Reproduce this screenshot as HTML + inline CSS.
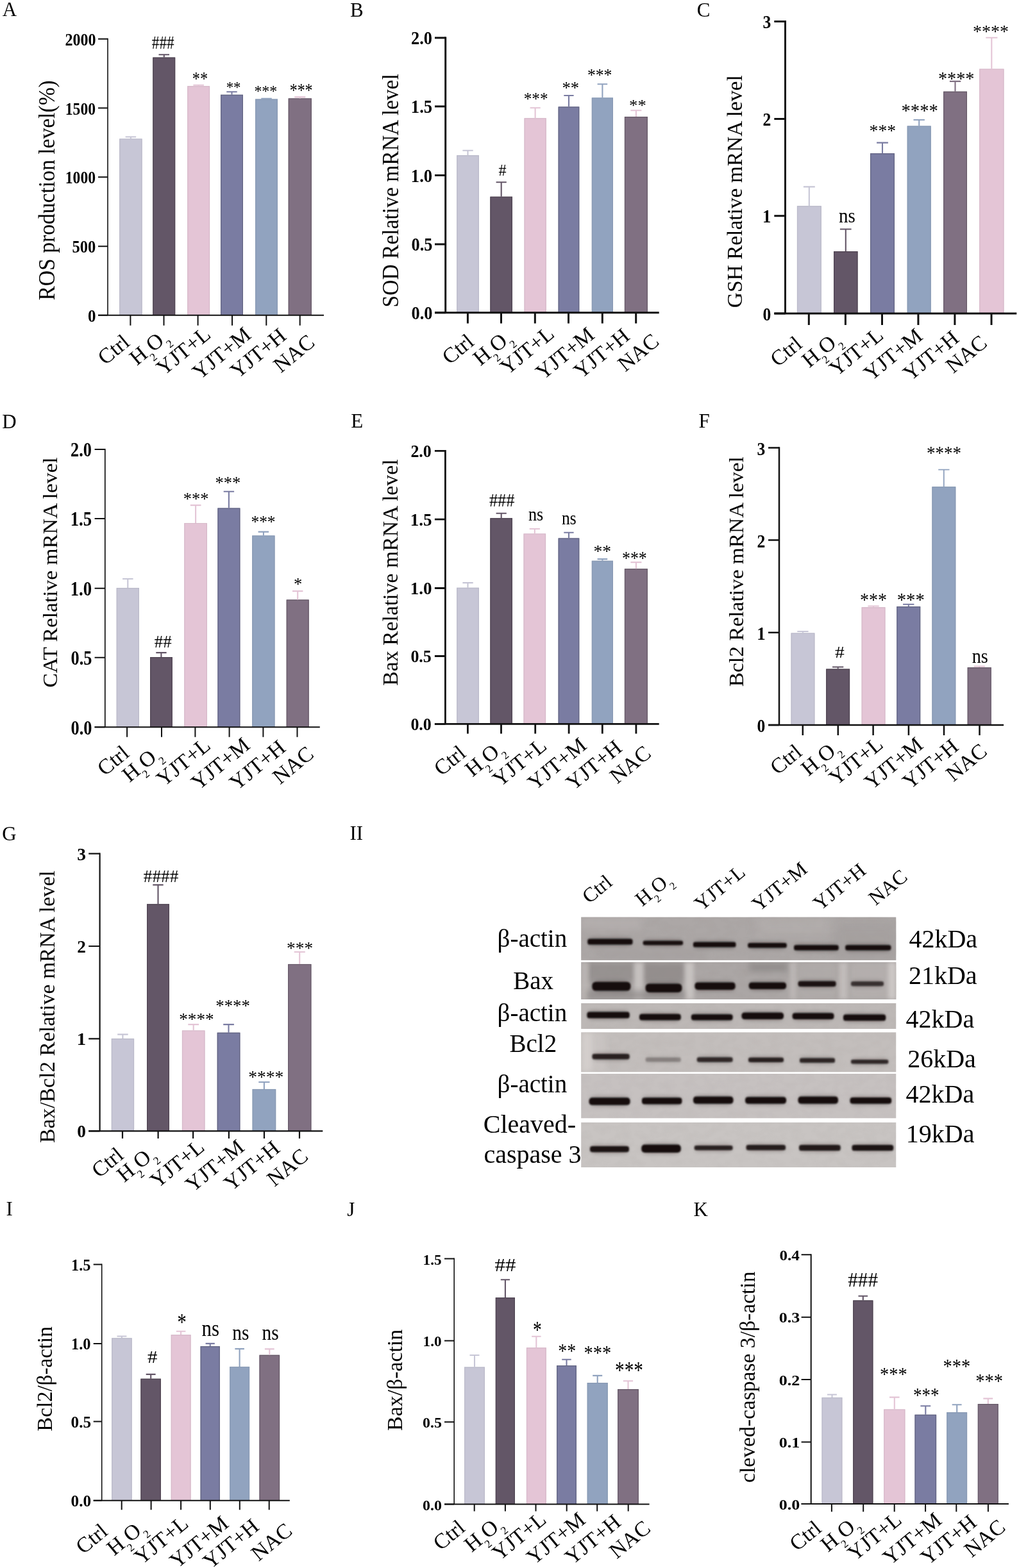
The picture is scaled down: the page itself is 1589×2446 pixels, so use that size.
<!DOCTYPE html><html><head><meta charset="utf-8"><title>Figure</title><style>html,body{margin:0;padding:0;background:#fff;width:1589px;height:2446px;overflow:hidden}svg{display:block}</style></head><body><svg width="1589" height="2446" viewBox="0 0 1589 2446" font-family="'Liberation Serif', serif"><rect width="1589" height="2446" fill="#fff"/><defs><filter id="bb" x="-10%" y="-60%" width="120%" height="220%"><feGaussianBlur stdDeviation="1.1"/></filter><filter id="bh" x="-20%" y="-150%" width="140%" height="400%"><feGaussianBlur stdDeviation="3"/></filter><filter id="s3" x="-50%" y="-50%" width="200%" height="200%"><feGaussianBlur stdDeviation="3"/></filter><filter id="s4" x="-50%" y="-50%" width="200%" height="200%"><feGaussianBlur stdDeviation="4"/></filter><filter id="s5" x="-50%" y="-50%" width="200%" height="200%"><feGaussianBlur stdDeviation="5"/></filter><filter id="s6" x="-50%" y="-50%" width="200%" height="200%"><feGaussianBlur stdDeviation="6"/></filter><filter id="s8" x="-50%" y="-50%" width="200%" height="200%"><feGaussianBlur stdDeviation="8"/></filter><filter id="nz" x="0" y="0" width="100%" height="100%"><feTurbulence type="fractalNoise" baseFrequency="0.06 0.09" numOctaves="2" seed="7"/><feColorMatrix type="matrix" values="0 0 0 0 0.35  0 0 0 0 0.32  0 0 0 0 0.31  0 0 0 -1.6 1.0"/></filter><clipPath id="c0"><rect x="906.1" y="1430.4" width="491.4" height="67.5"/></clipPath><clipPath id="c1"><rect x="906.1" y="1500.8" width="491.4" height="58.2"/></clipPath><clipPath id="c2"><rect x="906.1" y="1564.9" width="491.4" height="40.1"/></clipPath><clipPath id="c3"><rect x="906.1" y="1610.2" width="491.4" height="62.3"/></clipPath><clipPath id="c4"><rect x="906.1" y="1675.0" width="491.4" height="69.6"/></clipPath><clipPath id="c5"><rect x="906.1" y="1750.8" width="491.4" height="70.2"/></clipPath></defs><g clip-path="url(#c0)"><rect x="906.1" y="1430.4" width="491.4" height="67.5" fill="#aca7a6"/><rect x="906.1" y="1430.4" width="491.4" height="67.5" filter="url(#nz)" opacity="0.22"/><rect x="906" y="1430" width="94" height="20" fill="#b9b4b3" opacity="0.6" filter="url(#s6)"/><rect x="1180" y="1430" width="120" height="30" fill="#b7b2b1" opacity="0.5" filter="url(#s8)"/><rect x="1300" y="1440" width="97" height="57" fill="#a29d9c" opacity="0.6" filter="url(#s8)"/><rect x="930" y="1480" width="170" height="17" fill="#a39e9d" opacity="0.5" filter="url(#s6)"/><rect x="918.2" y="1463.6" width="66.3" height="10.9" rx="4.5" fill="#161110" opacity="0.35" filter="url(#bh)"/><rect x="916.2" y="1464.6" width="70.3" height="8.9" rx="3.6" fill="#161110" opacity="1" filter="url(#bb)"/><rect x="1004.7" y="1466.4" width="58.3" height="8.9" rx="3.4" fill="#161110" opacity="0.34" filter="url(#bh)"/><rect x="1002.7" y="1467.4" width="62.3" height="6.9" rx="2.8" fill="#161110" opacity="0.97" filter="url(#bb)"/><rect x="1083.0" y="1468.5" width="62.4" height="10.1" rx="4.0" fill="#161110" opacity="0.35" filter="url(#bh)"/><rect x="1081.0" y="1469.5" width="66.4" height="8.1" rx="3.2" fill="#161110" opacity="1" filter="url(#bb)"/><rect x="1168.2" y="1470.1" width="56.6" height="9.3" rx="3.7" fill="#161110" opacity="0.35" filter="url(#bh)"/><rect x="1166.2" y="1471.1" width="60.6" height="7.3" rx="2.9" fill="#161110" opacity="1" filter="url(#bb)"/><rect x="1240.1" y="1473.3" width="65.6" height="10.1" rx="4.1" fill="#161110" opacity="0.35" filter="url(#bh)"/><rect x="1238.1" y="1474.3" width="69.6" height="8.1" rx="3.2" fill="#161110" opacity="1" filter="url(#bb)"/><rect x="1320.2" y="1473.3" width="67.1" height="10.1" rx="4.1" fill="#161110" opacity="0.35" filter="url(#bh)"/><rect x="1318.2" y="1474.3" width="71.1" height="8.1" rx="3.2" fill="#161110" opacity="1" filter="url(#bb)"/></g><g clip-path="url(#c1)"><rect x="906.1" y="1500.8" width="491.4" height="58.2" fill="#aba6a5"/><rect x="906.1" y="1500.8" width="491.4" height="58.2" filter="url(#nz)" opacity="0.28"/><rect x="915" y="1501" width="75" height="31" fill="#8c8786" opacity="0.65" filter="url(#s5)"/><rect x="1003" y="1501" width="65" height="34" fill="#8a8584" opacity="0.7" filter="url(#s5)"/><rect x="1168" y="1501" width="60" height="15" fill="#8e8988" opacity="0.8" filter="url(#s4)"/><rect x="906" y="1501" width="12" height="58" fill="#c2bdbb" opacity="0.7" filter="url(#s3)"/><rect x="989" y="1501" width="14" height="58" fill="#c9c4c2" opacity="0.9" filter="url(#s3)"/><rect x="1068" y="1501" width="14" height="58" fill="#cbc6c4" opacity="0.9" filter="url(#s3)"/><rect x="1232" y="1501" width="10" height="58" fill="#c4bfbd" opacity="0.7" filter="url(#s3)"/><rect x="1308" y="1501" width="14" height="58" fill="#c8c3c1" opacity="0.8" filter="url(#s3)"/><rect x="1245" y="1501" width="60" height="58" fill="#b3aeac" opacity="0.6" filter="url(#s5)"/><rect x="1325" y="1501" width="72" height="58" fill="#b8b3b1" opacity="0.7" filter="url(#s5)"/><rect x="1385" y="1501" width="12.5" height="58" fill="#d3cecc" opacity="0.8" filter="url(#s3)"/><rect x="915" y="1545" width="153" height="14" fill="#8f8a89" opacity="0.7" filter="url(#s4)"/><rect x="925.4" y="1530.7" width="55.9" height="15.8" rx="6.9" fill="#161110" opacity="0.35" filter="url(#bh)"/><rect x="923.4" y="1531.7" width="59.9" height="13.8" rx="5.5" fill="#161110" opacity="1" filter="url(#bb)"/><rect x="1008.7" y="1533.5" width="52.6" height="15.4" rx="6.7" fill="#161110" opacity="0.35" filter="url(#bh)"/><rect x="1006.7" y="1534.5" width="56.6" height="13.4" rx="5.4" fill="#161110" opacity="1" filter="url(#bb)"/><rect x="1085.5" y="1531.5" width="59.1" height="13.4" rx="5.7" fill="#161110" opacity="0.35" filter="url(#bh)"/><rect x="1083.5" y="1532.5" width="63.1" height="11.4" rx="4.6" fill="#161110" opacity="1" filter="url(#bb)"/><rect x="1169.8" y="1531.5" width="54.2" height="12.5" rx="5.2" fill="#161110" opacity="0.35" filter="url(#bh)"/><rect x="1167.8" y="1532.5" width="58.2" height="10.5" rx="4.2" fill="#161110" opacity="1" filter="url(#bb)"/><rect x="1246.6" y="1529.5" width="55.0" height="10.5" rx="4.2" fill="#161110" opacity="0.33" filter="url(#bh)"/><rect x="1244.6" y="1530.5" width="59.0" height="8.5" rx="3.4" fill="#161110" opacity="0.95" filter="url(#bb)"/><rect x="1329.0" y="1530.0" width="47.0" height="9.2" rx="3.6" fill="#161110" opacity="0.25" filter="url(#bh)"/><rect x="1327.0" y="1531.0" width="51.0" height="7.2" rx="2.9" fill="#161110" opacity="0.72" filter="url(#bb)"/></g><g clip-path="url(#c2)"><rect x="906.1" y="1564.9" width="491.4" height="40.1" fill="#bdb8b6"/><rect x="906.1" y="1564.9" width="491.4" height="40.1" filter="url(#nz)" opacity="0.12"/><rect x="917.4" y="1577.6" width="62.3" height="11.7" rx="4.9" fill="#161110" opacity="0.35" filter="url(#bh)"/><rect x="915.4" y="1578.6" width="66.3" height="9.7" rx="3.9" fill="#161110" opacity="1" filter="url(#bb)"/><rect x="999.0" y="1580.8" width="60.7" height="11.7" rx="4.9" fill="#161110" opacity="0.35" filter="url(#bh)"/><rect x="997.0" y="1581.8" width="64.7" height="9.7" rx="3.9" fill="#161110" opacity="1" filter="url(#bb)"/><rect x="1079.9" y="1581.3" width="60.7" height="11.2" rx="4.6" fill="#161110" opacity="0.35" filter="url(#bh)"/><rect x="1077.9" y="1582.3" width="64.7" height="9.2" rx="3.7" fill="#161110" opacity="1" filter="url(#bb)"/><rect x="1158.5" y="1578.4" width="61.5" height="12.5" rx="5.2" fill="#161110" opacity="0.35" filter="url(#bh)"/><rect x="1156.5" y="1579.4" width="65.5" height="10.5" rx="4.2" fill="#161110" opacity="1" filter="url(#bb)"/><rect x="1237.7" y="1579.2" width="60.7" height="11.7" rx="4.9" fill="#161110" opacity="0.35" filter="url(#bh)"/><rect x="1235.7" y="1580.2" width="64.7" height="9.7" rx="3.9" fill="#161110" opacity="1" filter="url(#bb)"/><rect x="1317.0" y="1581.6" width="62.2" height="11.7" rx="4.9" fill="#161110" opacity="0.35" filter="url(#bh)"/><rect x="1315.0" y="1582.6" width="66.2" height="9.7" rx="3.9" fill="#161110" opacity="1" filter="url(#bb)"/></g><g clip-path="url(#c3)"><rect x="906.1" y="1610.2" width="491.4" height="62.3" fill="#c3bebc"/><rect x="906.1" y="1610.2" width="491.4" height="62.3" filter="url(#nz)" opacity="0.1"/><rect x="906" y="1610" width="20" height="62" fill="#d5d0ce" opacity="0.9" filter="url(#s4)"/><rect x="926" y="1610" width="19" height="62" fill="#cdc8c6" opacity="0.6" filter="url(#s5)"/><rect x="925.4" y="1643.1" width="54.3" height="10.4" rx="4.2" fill="#161110" opacity="0.30" filter="url(#bh)"/><rect x="923.4" y="1644.1" width="58.3" height="8.4" rx="3.4" fill="#161110" opacity="0.85" filter="url(#bb)"/><rect x="1008.7" y="1648.5" width="51.0" height="9.0" rx="3.5" fill="#161110" opacity="0.10" filter="url(#bh)"/><rect x="1006.7" y="1649.5" width="55.0" height="7.0" rx="2.8" fill="#161110" opacity="0.28" filter="url(#bb)"/><rect x="1088.8" y="1648.3" width="51.8" height="9.5" rx="3.8" fill="#161110" opacity="0.28" filter="url(#bh)"/><rect x="1086.8" y="1649.3" width="55.8" height="7.5" rx="3.0" fill="#161110" opacity="0.8" filter="url(#bb)"/><rect x="1169.0" y="1648.7" width="51.0" height="9.3" rx="3.6" fill="#161110" opacity="0.30" filter="url(#bh)"/><rect x="1167.0" y="1649.7" width="55.0" height="7.3" rx="2.9" fill="#161110" opacity="0.85" filter="url(#bb)"/><rect x="1249.0" y="1649.6" width="51.0" height="9.2" rx="3.6" fill="#161110" opacity="0.29" filter="url(#bh)"/><rect x="1247.0" y="1650.6" width="55.0" height="7.2" rx="2.9" fill="#161110" opacity="0.82" filter="url(#bb)"/><rect x="1329.0" y="1652.0" width="54.3" height="8.4" rx="3.2" fill="#161110" opacity="0.28" filter="url(#bh)"/><rect x="1327.0" y="1653.0" width="58.3" height="6.4" rx="2.6" fill="#161110" opacity="0.8" filter="url(#bb)"/></g><g clip-path="url(#c4)"><rect x="906.1" y="1675.0" width="491.4" height="69.6" fill="#c6c1c0"/><rect x="906.1" y="1675.0" width="491.4" height="69.6" filter="url(#nz)" opacity="0.1"/><rect x="920.6" y="1711.3" width="59.9" height="13.5" rx="5.8" fill="#161110" opacity="0.35" filter="url(#bh)"/><rect x="918.6" y="1712.3" width="63.9" height="11.5" rx="4.6" fill="#161110" opacity="1" filter="url(#bb)"/><rect x="1003.0" y="1711.3" width="58.3" height="12.2" rx="5.1" fill="#161110" opacity="0.35" filter="url(#bh)"/><rect x="1001.0" y="1712.3" width="62.3" height="10.2" rx="4.1" fill="#161110" opacity="1" filter="url(#bb)"/><rect x="1083.1" y="1709.4" width="58.3" height="13.3" rx="5.6" fill="#161110" opacity="0.35" filter="url(#bh)"/><rect x="1081.1" y="1710.4" width="62.3" height="11.3" rx="4.5" fill="#161110" opacity="1" filter="url(#bb)"/><rect x="1164.1" y="1710.2" width="59.9" height="12.5" rx="5.2" fill="#161110" opacity="0.35" filter="url(#bh)"/><rect x="1162.1" y="1711.2" width="63.9" height="10.5" rx="4.2" fill="#161110" opacity="1" filter="url(#bb)"/><rect x="1246.6" y="1709.4" width="58.3" height="13.3" rx="5.6" fill="#161110" opacity="0.35" filter="url(#bh)"/><rect x="1244.6" y="1710.4" width="62.3" height="11.3" rx="4.5" fill="#161110" opacity="1" filter="url(#bb)"/><rect x="1327.5" y="1711.0" width="60.6" height="11.7" rx="4.9" fill="#161110" opacity="0.35" filter="url(#bh)"/><rect x="1325.5" y="1712.0" width="64.6" height="9.7" rx="3.9" fill="#161110" opacity="1" filter="url(#bb)"/></g><g clip-path="url(#c5)"><rect x="906.1" y="1750.8" width="491.4" height="70.2" fill="#c8c4c2"/><rect x="906.1" y="1750.8" width="491.4" height="70.2" filter="url(#nz)" opacity="0.1"/><rect x="922.0" y="1786.9" width="56.9" height="11.3" rx="4.6" fill="#161110" opacity="0.33" filter="url(#bh)"/><rect x="920.0" y="1787.9" width="60.9" height="9.3" rx="3.7" fill="#161110" opacity="0.95" filter="url(#bb)"/><rect x="1002.3" y="1784.5" width="57.4" height="14.5" rx="6.2" fill="#161110" opacity="0.35" filter="url(#bh)"/><rect x="1000.3" y="1785.5" width="61.4" height="12.5" rx="5.0" fill="#161110" opacity="1" filter="url(#bb)"/><rect x="1084.7" y="1785.9" width="55.9" height="9.4" rx="3.7" fill="#161110" opacity="0.30" filter="url(#bh)"/><rect x="1082.7" y="1786.9" width="59.9" height="7.4" rx="3.0" fill="#161110" opacity="0.85" filter="url(#bb)"/><rect x="1165.6" y="1785.0" width="57.4" height="10.3" rx="4.1" fill="#161110" opacity="0.31" filter="url(#bh)"/><rect x="1163.6" y="1786.0" width="61.4" height="8.3" rx="3.3" fill="#161110" opacity="0.88" filter="url(#bb)"/><rect x="1248.0" y="1785.0" width="60.7" height="11.0" rx="4.5" fill="#161110" opacity="0.32" filter="url(#bh)"/><rect x="1246.0" y="1786.0" width="64.7" height="9.0" rx="3.6" fill="#161110" opacity="0.9" filter="url(#bb)"/><rect x="1330.5" y="1785.0" width="60.7" height="11.0" rx="4.5" fill="#161110" opacity="0.33" filter="url(#bh)"/><rect x="1328.5" y="1786.0" width="64.7" height="9.0" rx="3.6" fill="#161110" opacity="0.95" filter="url(#bb)"/></g><g id="pA"><rect x="186.2" y="216.4" width="35.4" height="275.4" fill="#C7C6D6"/><path d="M186.8 491.8V217H221V491.8" stroke="#bbbac9" stroke-width="1.2" fill="none"/><path d="M203.9 216.4V213.5M195.6 213.5H212.2" stroke="#C7C6D6" stroke-width="2.1" fill="none"/><rect x="238.3" y="89.6" width="34.9" height="402.2" fill="#635667"/><path d="M238.9 491.8V90.2H272.6V491.8" stroke="#4f4452" stroke-width="1.2" fill="none"/><path d="M255.8 89.6V85.2M247.5 85.2H264" stroke="#635667" stroke-width="2.1" fill="none"/><rect x="292.2" y="134.2" width="34.9" height="357.6" fill="#E4C5D6"/><path d="M292.8 491.8V134.8H326.5V491.8" stroke="#d6b9c9" stroke-width="1.2" fill="none"/><path d="M309.6 134.2V132.8M301.4 132.8H317.9" stroke="#E4C5D6" stroke-width="2.1" fill="none"/><rect x="344" y="147.8" width="35" height="344" fill="#7A7CA2"/><path d="M344.6 491.8V148.4H378.4V491.8" stroke="#616381" stroke-width="1.2" fill="none"/><path d="M361.5 147.8V143.3M353.3 143.3H369.7" stroke="#7A7CA2" stroke-width="2.1" fill="none"/><rect x="398.1" y="154.6" width="34.9" height="337.2" fill="#91A3BF"/><path d="M398.7 491.8V155.2H432.4V491.8" stroke="#8899b3" stroke-width="1.2" fill="none"/><path d="M415.6 154.6V153.7M407.3 153.7H423.8" stroke="#91A3BF" stroke-width="2.1" fill="none"/><rect x="449.7" y="153.4" width="36.2" height="338.4" fill="#807082"/><path d="M450.3 491.8V154H485.3V491.8" stroke="#665968" stroke-width="1.2" fill="none"/><path d="M467.8 153.4V151.4M459.3 151.4H476.3" stroke="#E4C5D6" stroke-width="2.1" fill="none"/><path d="M168 59.7V491.8" stroke="#111" stroke-width="1.6" fill="none"/><path d="M153 491.8H505" stroke="#111" stroke-width="2.0" fill="none"/><path d="M153 60.7H168M153 168.5H168M153 276.2H168M153 384.2H168M153 491.8H168" stroke="#111" stroke-width="2.0" fill="none"/><path d="M203.4 491.8V507.8M255.5 491.8V507.8M308.6 491.8V507.8M362 491.8V507.8M415.3 491.8V507.8M467.7 491.8V507.8" stroke="#111" stroke-width="2.0" fill="none"/></g><g id="pB"><rect x="712.2" y="242.2" width="34.7" height="245.5" fill="#C7C6D6"/><path d="M712.8 487.7V242.8H746.3V487.7" stroke="#bbbac9" stroke-width="1.2" fill="none"/><path d="M729.5 242.2V234.8M721.4 234.8H737.7" stroke="#C7C6D6" stroke-width="2.1" fill="none"/><rect x="764.4" y="306.8" width="34.6" height="180.9" fill="#635667"/><path d="M765 487.7V307.4H798.4V487.7" stroke="#4f4452" stroke-width="1.2" fill="none"/><path d="M781.7 306.8V284.2M773.6 284.2H789.8" stroke="#635667" stroke-width="2.1" fill="none"/><rect x="817.5" y="184.3" width="34.3" height="303.4" fill="#E4C5D6"/><path d="M818.1 487.7V184.9H851.2V487.7" stroke="#d6b9c9" stroke-width="1.2" fill="none"/><path d="M834.6 184.3V168.2M826.6 168.2H842.7" stroke="#E4C5D6" stroke-width="2.1" fill="none"/><rect x="870.6" y="166.5" width="32.7" height="321.2" fill="#7A7CA2"/><path d="M871.2 487.7V167.1H902.7V487.7" stroke="#616381" stroke-width="1.2" fill="none"/><path d="M887 166.5V149M879.3 149H894.6" stroke="#7A7CA2" stroke-width="2.1" fill="none"/><rect x="922.8" y="152.4" width="33.2" height="335.3" fill="#91A3BF"/><path d="M923.4 487.7V153H955.4V487.7" stroke="#8899b3" stroke-width="1.2" fill="none"/><path d="M939.4 152.4V131.2M931.6 131.2H947.2" stroke="#91A3BF" stroke-width="2.1" fill="none"/><rect x="973.9" y="182" width="36" height="305.7" fill="#807082"/><path d="M974.5 487.7V182.6H1009.3V487.7" stroke="#665968" stroke-width="1.2" fill="none"/><path d="M991.9 182V172.2M983.4 172.2H1000.4" stroke="#E4C5D6" stroke-width="2.1" fill="none"/><path d="M694.7 57.4V487.7" stroke="#111" stroke-width="3" fill="none"/><path d="M678 487.7H1027.7" stroke="#111" stroke-width="3" fill="none"/><path d="M678 58.9H694.7M678 166H694.7M678 273.5H694.7M678 381H694.7M678 487.7H694.7" stroke="#111" stroke-width="3" fill="none"/><path d="M729.4 487.7V504.5M781.5 487.7V504.5M834.3 487.7V504.5M886.5 487.7V504.5M939.3 487.7V504.5M991.7 487.7V504.5" stroke="#111" stroke-width="3" fill="none"/></g><g id="pC"><rect x="1242.9" y="321.2" width="37.9" height="167.9" fill="#C7C6D6"/><path d="M1243.5 489.1V321.8H1280.2V489.1" stroke="#bbbac9" stroke-width="1.2" fill="none"/><path d="M1261.8 321.2V291.4M1252.9 291.4H1270.8" stroke="#C7C6D6" stroke-width="2.1" fill="none"/><rect x="1300" y="392.1" width="37.5" height="97" fill="#635667"/><path d="M1300.6 489.1V392.7H1336.9V489.1" stroke="#4f4452" stroke-width="1.2" fill="none"/><path d="M1318.8 392.1V357.5M1309.9 357.5H1327.6" stroke="#635667" stroke-width="2.1" fill="none"/><rect x="1357" y="239.3" width="38" height="249.8" fill="#7A7CA2"/><path d="M1357.6 489.1V239.9H1394.4V489.1" stroke="#616381" stroke-width="1.2" fill="none"/><path d="M1376 239.3V222.6M1367.1 222.6H1384.9" stroke="#7A7CA2" stroke-width="2.1" fill="none"/><rect x="1414.7" y="196.4" width="37" height="292.7" fill="#91A3BF"/><path d="M1415.3 489.1V197H1451.1V489.1" stroke="#8899b3" stroke-width="1.2" fill="none"/><path d="M1433.2 196.4V187M1424.5 187H1441.9" stroke="#91A3BF" stroke-width="2.1" fill="none"/><rect x="1471.1" y="142.7" width="36.9" height="346.4" fill="#807082"/><path d="M1471.7 489.1V143.3H1507.4V489.1" stroke="#665968" stroke-width="1.2" fill="none"/><path d="M1489.5 142.7V126.9M1480.9 126.9H1498.2" stroke="#807082" stroke-width="2.1" fill="none"/><rect x="1527.2" y="107.4" width="38.3" height="381.7" fill="#E4C5D6"/><path d="M1527.8 489.1V108H1564.9V489.1" stroke="#d6b9c9" stroke-width="1.2" fill="none"/><path d="M1546.3 107.4V58.7M1537.3 58.7H1555.4" stroke="#E4C5D6" stroke-width="2.1" fill="none"/><path d="M1224.5 32.1V489.1" stroke="#111" stroke-width="3" fill="none"/><path d="M1207.3 489.1H1585.3" stroke="#111" stroke-width="3" fill="none"/><path d="M1207.3 33.6H1224.5M1207.3 185.5H1224.5M1207.3 336.7H1224.5M1207.3 489.1H1224.5" stroke="#111" stroke-width="3" fill="none"/><path d="M1261.3 489.1V506.9M1318.4 489.1V506.9M1375.5 489.1V506.9M1431.9 489.1V506.9M1488.9 489.1V506.9M1546 489.1V506.9" stroke="#111" stroke-width="3" fill="none"/></g><g id="pD"><rect x="181.7" y="917" width="35.3" height="217.3" fill="#C7C6D6"/><path d="M182.3 1134.3V917.6H216.4V1134.3" stroke="#bbbac9" stroke-width="1.2" fill="none"/><path d="M199.3 917V903M191.1 903H207.6" stroke="#C7C6D6" stroke-width="2.1" fill="none"/><rect x="234.1" y="1025" width="34.7" height="109.3" fill="#635667"/><path d="M234.7 1134.3V1025.6H268.2V1134.3" stroke="#4f4452" stroke-width="1.2" fill="none"/><path d="M251.4 1025V1018.1M243.3 1018.1H259.6" stroke="#635667" stroke-width="2.1" fill="none"/><rect x="287.3" y="815.9" width="35.7" height="318.4" fill="#E4C5D6"/><path d="M287.9 1134.3V816.5H322.4V1134.3" stroke="#d6b9c9" stroke-width="1.2" fill="none"/><path d="M305.1 815.9V788.1M296.8 788.1H313.5" stroke="#E4C5D6" stroke-width="2.1" fill="none"/><rect x="339.4" y="792.6" width="35" height="341.7" fill="#7A7CA2"/><path d="M340 1134.3V793.2H373.8V1134.3" stroke="#616381" stroke-width="1.2" fill="none"/><path d="M356.9 792.6V766.8M348.7 766.8H365.1" stroke="#7A7CA2" stroke-width="2.1" fill="none"/><rect x="393.2" y="835.4" width="35.3" height="298.9" fill="#91A3BF"/><path d="M393.8 1134.3V836H427.9V1134.3" stroke="#8899b3" stroke-width="1.2" fill="none"/><path d="M410.9 835.4V829.6M402.6 829.6H419.1" stroke="#91A3BF" stroke-width="2.1" fill="none"/><rect x="446.7" y="935.5" width="35" height="198.8" fill="#807082"/><path d="M447.3 1134.3V936.1H481.1V1134.3" stroke="#665968" stroke-width="1.2" fill="none"/><path d="M464.2 935.5V922.1M456 922.1H472.4" stroke="#E4C5D6" stroke-width="2.1" fill="none"/><path d="M163.8 700.1V1134.3" stroke="#111" stroke-width="1.7" fill="none"/><path d="M147.6 1134.3H498.8" stroke="#111" stroke-width="2.0" fill="none"/><path d="M147.6 701.1H163.8M147.6 808.9H163.8M147.6 917.7H163.8M147.6 1025.7H163.8M147.6 1134.3H163.8" stroke="#111" stroke-width="2.0" fill="none"/><path d="M198.1 1134.3V1149.8M252 1134.3V1149.8M304.4 1134.3V1149.8M357.6 1134.3V1149.8M410.4 1134.3V1149.8M463.5 1134.3V1149.8" stroke="#111" stroke-width="2.0" fill="none"/></g><g id="pE"><rect x="712.2" y="916.8" width="34.7" height="212.6" fill="#C7C6D6"/><path d="M712.8 1129.4V917.4H746.3V1129.4" stroke="#bbbac9" stroke-width="1.2" fill="none"/><path d="M729.5 916.8V909.1M721.4 909.1H737.7" stroke="#C7C6D6" stroke-width="2.1" fill="none"/><rect x="764.4" y="808.2" width="34.6" height="321.2" fill="#635667"/><path d="M765 1129.4V808.8H798.4V1129.4" stroke="#4f4452" stroke-width="1.2" fill="none"/><path d="M781.7 808.2V800.8M773.6 800.8H789.8" stroke="#635667" stroke-width="2.1" fill="none"/><rect x="816.5" y="832.4" width="34.6" height="297" fill="#E4C5D6"/><path d="M817.1 1129.4V833H850.5V1129.4" stroke="#d6b9c9" stroke-width="1.2" fill="none"/><path d="M833.8 832.4V825M825.7 825H841.9" stroke="#E4C5D6" stroke-width="2.1" fill="none"/><rect x="870.6" y="839.5" width="32.7" height="289.9" fill="#7A7CA2"/><path d="M871.2 1129.4V840.1H902.7V1129.4" stroke="#616381" stroke-width="1.2" fill="none"/><path d="M887 839.5V830.7M879.3 830.7H894.6" stroke="#7A7CA2" stroke-width="2.1" fill="none"/><rect x="922.8" y="874.8" width="33.2" height="254.6" fill="#91A3BF"/><path d="M923.4 1129.4V875.4H955.4V1129.4" stroke="#8899b3" stroke-width="1.2" fill="none"/><path d="M939.4 874.8V872.1M931.6 872.1H947.2" stroke="#91A3BF" stroke-width="2.1" fill="none"/><rect x="973.9" y="887.2" width="36" height="242.2" fill="#807082"/><path d="M974.5 1129.4V887.8H1009.3V1129.4" stroke="#665968" stroke-width="1.2" fill="none"/><path d="M991.9 887.2V877.1M983.4 877.1H1000.4" stroke="#E4C5D6" stroke-width="2.1" fill="none"/><path d="M694.4 701.9V1129.4" stroke="#111" stroke-width="2.8" fill="none"/><path d="M677.9 1129.4H1027.7" stroke="#111" stroke-width="2.8" fill="none"/><path d="M677.9 703.3H694.4M677.9 810.1H694.4M677.9 917.5H694.4M677.9 1023.5H694.4M677.9 1129.4H694.4" stroke="#111" stroke-width="2.8" fill="none"/><path d="M729.4 1129.4V1144.5M781.5 1129.4V1144.5M834.7 1129.4V1144.5M887.1 1129.4V1144.5M939.3 1129.4V1144.5M991.9 1129.4V1144.5" stroke="#111" stroke-width="2.8" fill="none"/></g><g id="pF"><rect x="1233.5" y="987.4" width="36.9" height="143.7" fill="#C7C6D6"/><path d="M1234.1 1131.1V988H1269.8V1131.1" stroke="#bbbac9" stroke-width="1.2" fill="none"/><path d="M1252 987.4V985M1243.3 985H1260.6" stroke="#C7C6D6" stroke-width="1.9" fill="none"/><rect x="1288.2" y="1043.5" width="36.9" height="87.6" fill="#635667"/><path d="M1288.8 1131.1V1044.1H1324.5V1131.1" stroke="#4f4452" stroke-width="1.2" fill="none"/><path d="M1306.7 1043.5V1040.5M1298 1040.5H1315.3" stroke="#635667" stroke-width="1.9" fill="none"/><rect x="1343.6" y="947.2" width="36.9" height="183.9" fill="#E4C5D6"/><path d="M1344.2 1131.1V947.8H1379.9V1131.1" stroke="#d6b9c9" stroke-width="1.2" fill="none"/><path d="M1362 947.2V945.5M1353.4 945.5H1370.7" stroke="#E4C5D6" stroke-width="1.9" fill="none"/><rect x="1398.3" y="946.1" width="36.9" height="185" fill="#7A7CA2"/><path d="M1398.9 1131.1V946.7H1434.6V1131.1" stroke="#616381" stroke-width="1.2" fill="none"/><path d="M1416.8 946.1V942.8M1408.1 942.8H1425.4" stroke="#7A7CA2" stroke-width="1.9" fill="none"/><rect x="1453.4" y="759.2" width="36.9" height="371.9" fill="#91A3BF"/><path d="M1454 1131.1V759.8H1489.7V1131.1" stroke="#8899b3" stroke-width="1.2" fill="none"/><path d="M1471.8 759.2V732.6M1463.2 732.6H1480.5" stroke="#91A3BF" stroke-width="1.9" fill="none"/><rect x="1508.7" y="1041.1" width="37" height="90" fill="#807082"/><path d="M1509.3 1131.1V1041.7H1545.1V1131.1" stroke="#665968" stroke-width="1.2" fill="none"/><path d="M1527.2 1041.1V1039.5M1518.5 1039.5H1535.9" stroke="#E4C5D6" stroke-width="1.9" fill="none"/><path d="M1215 697.2V1131.1" stroke="#111" stroke-width="2.5" fill="none"/><path d="M1198 1131.1H1565.1" stroke="#111" stroke-width="2.5" fill="none"/><path d="M1198 698.5H1215M1198 842.6H1215M1198 986.8H1215M1198 1131.1H1215" stroke="#111" stroke-width="2.5" fill="none"/><path d="M1251.8 1131.1V1146.9M1306.8 1131.1V1146.9M1361.6 1131.1V1146.9M1416.9 1131.1V1146.9M1472 1131.1V1146.9M1527.5 1131.1V1146.9" stroke="#111" stroke-width="2.5" fill="none"/></g><g id="pG"><rect x="173.8" y="1620.1" width="35.3" height="144.3" fill="#C7C6D6"/><path d="M174.4 1764.4V1620.7H208.5V1764.4" stroke="#bbbac9" stroke-width="1.2" fill="none"/><path d="M191.4 1620.1V1613.6M183.2 1613.6H199.7" stroke="#C7C6D6" stroke-width="2.1" fill="none"/><rect x="229" y="1410.3" width="35" height="354.1" fill="#635667"/><path d="M229.6 1764.4V1410.9H263.4V1764.4" stroke="#4f4452" stroke-width="1.2" fill="none"/><path d="M246.5 1410.3V1380.4M238.3 1380.4H254.7" stroke="#635667" stroke-width="2.1" fill="none"/><rect x="283.9" y="1607.4" width="35.6" height="157" fill="#E4C5D6"/><path d="M284.5 1764.4V1608H318.9V1764.4" stroke="#d6b9c9" stroke-width="1.2" fill="none"/><path d="M301.7 1607.4V1598.1M293.3 1598.1H310.1" stroke="#E4C5D6" stroke-width="2.1" fill="none"/><rect x="338.7" y="1610.8" width="35.7" height="153.6" fill="#7A7CA2"/><path d="M339.3 1764.4V1611.4H373.8V1764.4" stroke="#616381" stroke-width="1.2" fill="none"/><path d="M356.5 1610.8V1598.1M348.2 1598.1H364.9" stroke="#7A7CA2" stroke-width="2.1" fill="none"/><rect x="393.6" y="1698.9" width="36.6" height="65.5" fill="#91A3BF"/><path d="M394.2 1764.4V1699.5H429.6V1764.4" stroke="#8899b3" stroke-width="1.2" fill="none"/><path d="M411.9 1698.9V1688M403.3 1688H420.5" stroke="#91A3BF" stroke-width="2.1" fill="none"/><rect x="449.1" y="1503.9" width="36.3" height="260.5" fill="#807082"/><path d="M449.7 1764.4V1504.5H484.8V1764.4" stroke="#665968" stroke-width="1.2" fill="none"/><path d="M467.2 1503.9V1485M458.7 1485H475.8" stroke="#E4C5D6" stroke-width="2.1" fill="none"/><path d="M155.6 1330.5V1764.4" stroke="#111" stroke-width="2.2" fill="none"/><path d="M138.2 1764.4H503.3" stroke="#111" stroke-width="2.2" fill="none"/><path d="M138.2 1331.6H155.6M138.2 1476H155.6M138.2 1620.4H155.6M138.2 1764.4H155.6" stroke="#111" stroke-width="2.2" fill="none"/><path d="M191 1764.4V1776M246.6 1764.4V1776M301.1 1764.4V1776M356.9 1764.4V1776M412 1764.4V1776M467 1764.4V1776" stroke="#111" stroke-width="2.2" fill="none"/></g><g id="pI"><rect x="174.2" y="2087.3" width="31.5" height="253.5" fill="#C7C6D6"/><path d="M174.8 2340.8V2087.9H205.1V2340.8" stroke="#bbbac9" stroke-width="1.2" fill="none"/><path d="M189.9 2087.3V2084.5M182.5 2084.5H197.4" stroke="#C7C6D6" stroke-width="2.1" fill="none"/><rect x="219.4" y="2150.7" width="31.5" height="190.1" fill="#635667"/><path d="M220 2340.8V2151.3H250.3V2340.8" stroke="#4f4452" stroke-width="1.2" fill="none"/><path d="M235.2 2150.7V2143.9M227.7 2143.9H242.6" stroke="#635667" stroke-width="2.1" fill="none"/><rect x="266.7" y="2082.1" width="30.9" height="258.7" fill="#E4C5D6"/><path d="M267.3 2340.8V2082.7H297V2340.8" stroke="#d6b9c9" stroke-width="1.2" fill="none"/><path d="M282.1 2082.1V2076.7M274.9 2076.7H289.4" stroke="#E4C5D6" stroke-width="2.1" fill="none"/><rect x="312.6" y="2100" width="30.2" height="240.8" fill="#7A7CA2"/><path d="M313.2 2340.8V2100.6H342.2V2340.8" stroke="#616381" stroke-width="1.2" fill="none"/><path d="M327.7 2100V2095.9M320.6 2095.9H334.8" stroke="#7A7CA2" stroke-width="2.1" fill="none"/><rect x="358.2" y="2131.9" width="30.9" height="208.9" fill="#91A3BF"/><path d="M358.8 2340.8V2132.5H388.5V2340.8" stroke="#8899b3" stroke-width="1.2" fill="none"/><path d="M373.6 2131.9V2104.1M366.4 2104.1H380.9" stroke="#91A3BF" stroke-width="2.1" fill="none"/><rect x="404.5" y="2113.7" width="31.6" height="227.1" fill="#807082"/><path d="M405.1 2340.8V2114.3H435.5V2340.8" stroke="#665968" stroke-width="1.2" fill="none"/><path d="M420.3 2113.7V2104.4M412.9 2104.4H427.7" stroke="#E4C5D6" stroke-width="2.1" fill="none"/><path d="M158.7 1971.4V2340.8" stroke="#111" stroke-width="1.6" fill="none"/><path d="M145.7 2340.8H451.8" stroke="#111" stroke-width="2.0" fill="none"/><path d="M145.7 1972.4H158.7M145.7 2095.9H158.7M145.7 2217.6H158.7M145.7 2340.8H158.7" stroke="#111" stroke-width="2.0" fill="none"/><path d="M189.7 2340.8V2355.2M235.6 2340.8V2355.2M282.1 2340.8V2355.2M327.8 2340.8V2355.2M373.8 2340.8V2355.2M419.7 2340.8V2355.2" stroke="#111" stroke-width="2.0" fill="none"/></g><g id="pJ"><rect x="724" y="2132.5" width="32" height="214.1" fill="#C7C6D6"/><path d="M724.6 2346.6V2133.1H755.4V2346.6" stroke="#bbbac9" stroke-width="1.2" fill="none"/><path d="M740 2132.5V2114M732.5 2114H747.5" stroke="#C7C6D6" stroke-width="2.1" fill="none"/><rect x="772.8" y="2024.1" width="30.2" height="322.5" fill="#635667"/><path d="M773.4 2346.6V2024.7H802.4V2346.6" stroke="#4f4452" stroke-width="1.2" fill="none"/><path d="M787.9 2024.1V1996.2M780.8 1996.2H795" stroke="#635667" stroke-width="2.1" fill="none"/><rect x="820.9" y="2102.2" width="30.9" height="244.4" fill="#E4C5D6"/><path d="M821.5 2346.6V2102.8H851.2V2346.6" stroke="#d6b9c9" stroke-width="1.2" fill="none"/><path d="M836.3 2102.2V2084.7M829.1 2084.7H843.6" stroke="#E4C5D6" stroke-width="2.1" fill="none"/><rect x="868" y="2130.1" width="30.9" height="216.5" fill="#7A7CA2"/><path d="M868.6 2346.6V2130.7H898.3V2346.6" stroke="#616381" stroke-width="1.2" fill="none"/><path d="M883.5 2130.1V2120.7M876.2 2120.7H890.7" stroke="#7A7CA2" stroke-width="2.1" fill="none"/><rect x="915.7" y="2157" width="32" height="189.6" fill="#91A3BF"/><path d="M916.3 2346.6V2157.6H947.1V2346.6" stroke="#8899b3" stroke-width="1.2" fill="none"/><path d="M931.7 2157V2145.9M924.2 2145.9H939.2" stroke="#91A3BF" stroke-width="2.1" fill="none"/><rect x="963.1" y="2167.1" width="32.7" height="179.5" fill="#807082"/><path d="M963.7 2346.6V2167.7H995.2V2346.6" stroke="#665968" stroke-width="1.2" fill="none"/><path d="M979.5 2167.1V2154.3M971.8 2154.3H987.1" stroke="#E4C5D6" stroke-width="2.1" fill="none"/><path d="M708.2 1962.6V2346.6" stroke="#111" stroke-width="1.6" fill="none"/><path d="M693 2346.6H1012.6" stroke="#111" stroke-width="2.0" fill="none"/><path d="M693 1963.6H708.2M693 2091.4H708.2M693 2218.2H708.2M693 2346.6H708.2" stroke="#111" stroke-width="2.0" fill="none"/><path d="M739.7 2346.6V2357.6M787.9 2346.6V2357.6M835.5 2346.6V2357.6M883.7 2346.6V2357.6M931.2 2346.6V2357.6M979.7 2346.6V2357.6" stroke="#111" stroke-width="2.0" fill="none"/></g><g id="pK"><rect x="1281.5" y="2179.9" width="31.9" height="166.1" fill="#C7C6D6"/><path d="M1282.1 2346V2180.5H1312.8V2346" stroke="#bbbac9" stroke-width="1.2" fill="none"/><path d="M1297.5 2179.9V2175.5M1290 2175.5H1304.9" stroke="#C7C6D6" stroke-width="2.1" fill="none"/><rect x="1330.2" y="2028.5" width="31.2" height="317.5" fill="#635667"/><path d="M1330.8 2346V2029.1H1360.8V2346" stroke="#4f4452" stroke-width="1.2" fill="none"/><path d="M1345.8 2028.5V2021.8M1338.5 2021.8H1353.1" stroke="#635667" stroke-width="2.1" fill="none"/><rect x="1378.2" y="2198.4" width="33.2" height="147.6" fill="#E4C5D6"/><path d="M1378.8 2346V2199H1410.8V2346" stroke="#d6b9c9" stroke-width="1.2" fill="none"/><path d="M1394.8 2198.4V2179.6M1387 2179.6H1402.6" stroke="#E4C5D6" stroke-width="2.1" fill="none"/><rect x="1426.5" y="2206.8" width="33.6" height="139.2" fill="#7A7CA2"/><path d="M1427.1 2346V2207.4H1459.5V2346" stroke="#616381" stroke-width="1.2" fill="none"/><path d="M1443.3 2206.8V2193.3M1435.4 2193.3H1451.2" stroke="#7A7CA2" stroke-width="2.1" fill="none"/><rect x="1476.2" y="2203.1" width="31.9" height="142.9" fill="#91A3BF"/><path d="M1476.8 2346V2203.7H1507.5V2346" stroke="#8899b3" stroke-width="1.2" fill="none"/><path d="M1492.2 2203.1V2191.3M1484.7 2191.3H1499.6" stroke="#91A3BF" stroke-width="2.1" fill="none"/><rect x="1524.8" y="2190" width="31.9" height="156" fill="#807082"/><path d="M1525.4 2346V2190.6H1556.1V2346" stroke="#665968" stroke-width="1.2" fill="none"/><path d="M1540.8 2190V2181.6M1533.3 2181.6H1548.2" stroke="#E4C5D6" stroke-width="2.1" fill="none"/><path d="M1264.7 1956.3V2346" stroke="#111" stroke-width="2" fill="none"/><path d="M1249.6 2346H1572.9" stroke="#111" stroke-width="2" fill="none"/><path d="M1249.6 1957.3H1264.7M1249.6 2054.7H1264.7M1249.6 2152H1264.7M1249.6 2249.4H1264.7M1249.6 2346H1264.7" stroke="#111" stroke-width="2" fill="none"/><path d="M1296.9 2346V2358.3M1346.2 2346V2358.3M1394.7 2346V2358.3M1443.1 2346V2358.3M1491.3 2346V2358.3M1540.9 2346V2358.3" stroke="#111" stroke-width="2" fill="none"/></g><g fill="#000"><text x="14.85" y="24.85" font-size="31.00" text-anchor="middle">A</text><text x="85.05" y="296.90" font-size="34.94" text-anchor="middle" textLength="343.41" lengthAdjust="spacingAndGlyphs" transform="rotate(-90 85.05 296.90)">ROS production level(%)</text><text x="254.25" y="76.00" font-size="30.40" text-anchor="middle" textLength="35.01" lengthAdjust="spacingAndGlyphs">###</text><text x="311.95" y="132.00" font-size="28.46" text-anchor="middle" textLength="24.27" lengthAdjust="spacingAndGlyphs">**</text><text x="364.10" y="144.65" font-size="24.54" text-anchor="middle" textLength="22.90" lengthAdjust="spacingAndGlyphs">**</text><text x="414.35" y="151.40" font-size="26.18" text-anchor="middle" textLength="35.91" lengthAdjust="spacingAndGlyphs">***</text><text x="469.65" y="149.70" font-size="28.46" text-anchor="middle" textLength="35.91" lengthAdjust="spacingAndGlyphs">***</text><text x="184.20" y="553.90" font-size="33.50" text-anchor="middle" transform="rotate(-39.5 184.20 553.90)">Ctrl</text><text x="239.00" y="550.00" font-size="33.50" text-anchor="middle" transform="rotate(-39.5 239.00 550.00)">H<tspan font-size="17.4" dy="11.4">2</tspan><tspan dy="-11.4">O</tspan><tspan font-size="17.4" dy="11.4">2</tspan></text><text x="293.05" y="555.80" font-size="33.50" text-anchor="middle" transform="rotate(-39.5 293.05 555.80)">YJT+L</text><text x="352.55" y="559.40" font-size="33.50" text-anchor="middle" transform="rotate(-39.5 352.55 559.40)">YJT+M</text><text x="409.55" y="559.40" font-size="33.50" text-anchor="middle" transform="rotate(-39.5 409.55 559.40)">YJT+H</text><text x="465.40" y="559.90" font-size="33.50" text-anchor="middle" transform="rotate(-39.5 465.40 559.90)">NAC</text><text x="556.45" y="25.50" font-size="31.00" text-anchor="middle">B</text><text x="620.60" y="297.30" font-size="36.38" text-anchor="middle" textLength="364.22" lengthAdjust="spacingAndGlyphs" transform="rotate(-90 620.60 297.30)">SOD Relative mRNA level</text><text x="783.50" y="274.20" font-size="25.09" text-anchor="middle" textLength="12.10" lengthAdjust="spacingAndGlyphs">#</text><text x="835.65" y="163.00" font-size="28.28" text-anchor="middle" textLength="37.76" lengthAdjust="spacingAndGlyphs">***</text><text x="889.80" y="145.85" font-size="27.20" text-anchor="middle" textLength="26.52" lengthAdjust="spacingAndGlyphs">**</text><text x="935.20" y="126.35" font-size="27.20" text-anchor="middle" textLength="38.40" lengthAdjust="spacingAndGlyphs">***</text><text x="994.40" y="172.60" font-size="26.18" text-anchor="middle" textLength="26.62" lengthAdjust="spacingAndGlyphs">**</text><text x="721.05" y="553.10" font-size="33.50" text-anchor="middle" transform="rotate(-39.5 721.05 553.10)">Ctrl</text><text x="774.60" y="550.65" font-size="33.50" text-anchor="middle" transform="rotate(-39.5 774.60 550.65)">H<tspan font-size="17.4" dy="11.4">2</tspan><tspan dy="-11.4">O</tspan><tspan font-size="17.4" dy="11.4">2</tspan></text><text x="828.90" y="554.80" font-size="33.50" text-anchor="middle" transform="rotate(-39.5 828.90 554.80)">YJT+L</text><text x="888.00" y="559.60" font-size="33.50" text-anchor="middle" transform="rotate(-39.5 888.00 559.60)">YJT+M</text><text x="945.05" y="559.60" font-size="33.50" text-anchor="middle" transform="rotate(-39.5 945.05 559.60)">YJT+H</text><text x="1002.40" y="558.35" font-size="33.50" text-anchor="middle" transform="rotate(-39.5 1002.40 558.35)">NAC</text><text x="1097.20" y="25.50" font-size="31.00" text-anchor="middle">C</text><text x="1156.70" y="298.75" font-size="34.11" text-anchor="middle" textLength="363.02" lengthAdjust="spacingAndGlyphs" transform="rotate(-90 1156.70 298.75)">GSH Relative mRNA level</text><text x="1320.90" y="347.35" font-size="31.09" text-anchor="middle" textLength="25.75" lengthAdjust="spacingAndGlyphs">ns</text><text x="1376.30" y="213.40" font-size="26.67" text-anchor="middle" textLength="41.39" lengthAdjust="spacingAndGlyphs">***</text><text x="1434.20" y="182.20" font-size="28.84" text-anchor="middle" textLength="57.46" lengthAdjust="spacingAndGlyphs">****</text><text x="1491.25" y="131.50" font-size="29.33" text-anchor="middle" textLength="56.54" lengthAdjust="spacingAndGlyphs">****</text><text x="1544.95" y="58.00" font-size="28.28" text-anchor="middle" textLength="55.87" lengthAdjust="spacingAndGlyphs">****</text><text x="1232.80" y="556.65" font-size="33.50" text-anchor="middle" transform="rotate(-39.5 1232.80 556.65)">Ctrl</text><text x="1287.30" y="553.65" font-size="33.50" text-anchor="middle" transform="rotate(-39.5 1287.30 553.65)">H<tspan font-size="17.4" dy="11.4">2</tspan><tspan dy="-11.4">O</tspan><tspan font-size="17.4" dy="11.4">2</tspan></text><text x="1342.10" y="557.20" font-size="33.50" text-anchor="middle" transform="rotate(-39.5 1342.10 557.20)">YJT+L</text><text x="1399.65" y="561.40" font-size="33.50" text-anchor="middle" transform="rotate(-39.5 1399.65 561.40)">YJT+M</text><text x="1458.55" y="563.20" font-size="33.50" text-anchor="middle" transform="rotate(-39.5 1458.55 563.20)">YJT+H</text><text x="1513.85" y="560.75" font-size="33.50" text-anchor="middle" transform="rotate(-39.5 1513.85 560.75)">NAC</text><text x="14.35" y="667.65" font-size="31.00" text-anchor="middle">D</text><text x="89.40" y="892.90" font-size="32.49" text-anchor="middle" textLength="359.01" lengthAdjust="spacingAndGlyphs" transform="rotate(-90 89.40 892.90)">CAT Relative mRNA level</text><text x="254.20" y="1009.50" font-size="27.89" text-anchor="middle" textLength="26.81" lengthAdjust="spacingAndGlyphs">##</text><text x="305.65" y="786.70" font-size="27.74" text-anchor="middle" textLength="39.61" lengthAdjust="spacingAndGlyphs">***</text><text x="355.35" y="761.65" font-size="28.29" text-anchor="middle" textLength="39.61" lengthAdjust="spacingAndGlyphs">***</text><text x="410.50" y="823.35" font-size="28.29" text-anchor="middle" textLength="38.12" lengthAdjust="spacingAndGlyphs">***</text><text x="464.55" y="920.40" font-size="27.74" text-anchor="middle" textLength="13.26" lengthAdjust="spacingAndGlyphs">*</text><text x="183.30" y="1195.00" font-size="33.50" text-anchor="middle" transform="rotate(-39.5 183.30 1195.00)">Ctrl</text><text x="227.30" y="1200.25" font-size="33.50" text-anchor="middle" transform="rotate(-39.5 227.30 1200.25)">H<tspan font-size="17.4" dy="11.4">2</tspan><tspan dy="-11.4">O</tspan><tspan font-size="17.4" dy="11.4">2</tspan></text><text x="292.90" y="1197.20" font-size="33.50" text-anchor="middle" transform="rotate(-39.5 292.90 1197.20)">YJT+L</text><text x="350.80" y="1199.60" font-size="33.50" text-anchor="middle" transform="rotate(-39.5 350.80 1199.60)">YJT+M</text><text x="408.50" y="1202.00" font-size="33.50" text-anchor="middle" transform="rotate(-39.5 408.50 1202.00)">YJT+H</text><text x="464.00" y="1201.95" font-size="33.50" text-anchor="middle" transform="rotate(-39.5 464.00 1201.95)">NAC</text><text x="556.80" y="667.30" font-size="31.00" text-anchor="middle">E</text><text x="620.20" y="893.10" font-size="33.64" text-anchor="middle" textLength="353.21" lengthAdjust="spacingAndGlyphs" transform="rotate(-90 620.20 893.10)">Bax Relative mRNA level</text><text x="782.70" y="789.90" font-size="30.40" text-anchor="middle" textLength="39.62" lengthAdjust="spacingAndGlyphs">###</text><text x="835.50" y="812.10" font-size="29.33" text-anchor="middle" textLength="23.22" lengthAdjust="spacingAndGlyphs">ns</text><text x="887.30" y="818.20" font-size="29.33" text-anchor="middle" textLength="22.63" lengthAdjust="spacingAndGlyphs">ns</text><text x="939.25" y="869.25" font-size="27.20" text-anchor="middle" textLength="27.61" lengthAdjust="spacingAndGlyphs">**</text><text x="989.35" y="879.70" font-size="28.84" text-anchor="middle" textLength="38.76" lengthAdjust="spacingAndGlyphs">***</text><text x="708.25" y="1195.00" font-size="33.50" text-anchor="middle" transform="rotate(-39.5 708.25 1195.00)">Ctrl</text><text x="762.10" y="1191.85" font-size="33.50" text-anchor="middle" transform="rotate(-39.5 762.10 1191.85)">H<tspan font-size="17.4" dy="11.4">2</tspan><tspan dy="-11.4">O</tspan><tspan font-size="17.4" dy="11.4">2</tspan></text><text x="817.15" y="1197.55" font-size="33.50" text-anchor="middle" transform="rotate(-39.5 817.15 1197.55)">YJT+L</text><text x="875.65" y="1199.80" font-size="33.50" text-anchor="middle" transform="rotate(-39.5 875.65 1199.80)">YJT+M</text><text x="933.10" y="1202.00" font-size="33.50" text-anchor="middle" transform="rotate(-39.5 933.10 1202.00)">YJT+H</text><text x="989.85" y="1201.10" font-size="33.50" text-anchor="middle" transform="rotate(-39.5 989.85 1201.10)">NAC</text><text x="1098.20" y="667.30" font-size="31.00" text-anchor="middle">F</text><text x="1158.90" y="891.75" font-size="32.45" text-anchor="middle" textLength="359.01" lengthAdjust="spacingAndGlyphs" transform="rotate(-90 1158.90 891.75)">Bcl2 Relative mRNA level</text><text x="1309.50" y="1026.15" font-size="24.79" text-anchor="middle" textLength="14.81" lengthAdjust="spacingAndGlyphs">#</text><text x="1362.05" y="945.05" font-size="29.87" text-anchor="middle" textLength="42.03" lengthAdjust="spacingAndGlyphs">***</text><text x="1420.30" y="945.05" font-size="29.87" text-anchor="middle" textLength="43.12" lengthAdjust="spacingAndGlyphs">***</text><text x="1472.00" y="716.40" font-size="28.84" text-anchor="middle" textLength="54.08" lengthAdjust="spacingAndGlyphs">****</text><text x="1528.25" y="1033.55" font-size="31.43" text-anchor="middle" textLength="25.10" lengthAdjust="spacingAndGlyphs">ns</text><text x="1232.50" y="1193.05" font-size="33.50" text-anchor="middle" transform="rotate(-39.5 1232.50 1193.05)">Ctrl</text><text x="1286.20" y="1190.65" font-size="33.50" text-anchor="middle" transform="rotate(-39.5 1286.20 1190.65)">H<tspan font-size="17.4" dy="11.4">2</tspan><tspan dy="-11.4">O</tspan><tspan font-size="17.4" dy="11.4">2</tspan></text><text x="1341.70" y="1195.40" font-size="33.50" text-anchor="middle" transform="rotate(-39.5 1341.70 1195.40)">YJT+L</text><text x="1400.45" y="1199.10" font-size="33.50" text-anchor="middle" transform="rotate(-39.5 1400.45 1199.10)">YJT+M</text><text x="1457.90" y="1200.20" font-size="33.50" text-anchor="middle" transform="rotate(-39.5 1457.90 1200.20)">YJT+H</text><text x="1514.05" y="1197.75" font-size="33.50" text-anchor="middle" transform="rotate(-39.5 1514.05 1197.75)">NAC</text><text x="14.55" y="1311.10" font-size="31.00" text-anchor="middle">G</text><text x="85.35" y="1570.50" font-size="33.93" text-anchor="middle" textLength="424.80" lengthAdjust="spacingAndGlyphs" transform="rotate(-90 85.35 1570.50)">Bax/Bcl2 Relative mRNA level</text><text x="251.10" y="1376.10" font-size="26.68" text-anchor="middle" textLength="54.43" lengthAdjust="spacingAndGlyphs">####</text><text x="306.45" y="1599.15" font-size="28.29" text-anchor="middle" textLength="54.29" lengthAdjust="spacingAndGlyphs">****</text><text x="363.05" y="1577.55" font-size="28.29" text-anchor="middle" textLength="53.55" lengthAdjust="spacingAndGlyphs">****</text><text x="414.80" y="1688.90" font-size="27.74" text-anchor="middle" textLength="55.04" lengthAdjust="spacingAndGlyphs">****</text><text x="467.60" y="1488.40" font-size="27.74" text-anchor="middle" textLength="40.96" lengthAdjust="spacingAndGlyphs">***</text><text x="174.50" y="1821.85" font-size="33.50" text-anchor="middle" transform="rotate(-39.5 174.50 1821.85)">Ctrl</text><text x="219.10" y="1824.25" font-size="33.50" text-anchor="middle" transform="rotate(-39.5 219.10 1824.25)">H<tspan font-size="17.4" dy="11.4">2</tspan><tspan dy="-11.4">O</tspan><tspan font-size="17.4" dy="11.4">2</tspan></text><text x="283.25" y="1823.60" font-size="33.50" text-anchor="middle" transform="rotate(-39.5 283.25 1823.60)">YJT+L</text><text x="341.90" y="1826.85" font-size="33.50" text-anchor="middle" transform="rotate(-39.5 341.90 1826.85)">YJT+M</text><text x="399.55" y="1826.95" font-size="33.50" text-anchor="middle" transform="rotate(-39.5 399.55 1826.95)">YJT+H</text><text x="455.20" y="1829.55" font-size="33.50" text-anchor="middle" transform="rotate(-39.5 455.20 1829.55)">NAC</text><text x="14.60" y="1896.20" font-size="31.00" text-anchor="middle">I</text><text x="80.65" y="2151.05" font-size="32.82" text-anchor="middle" textLength="163.42" lengthAdjust="spacingAndGlyphs" transform="rotate(-90 80.65 2151.05)">Bcl2/β-actin</text><text x="237.75" y="2126.10" font-size="28.09" text-anchor="middle" textLength="15.43" lengthAdjust="spacingAndGlyphs">#</text><text x="283.55" y="2075.15" font-size="38.50" text-anchor="middle" textLength="14.19" lengthAdjust="spacingAndGlyphs">*</text><text x="328.25" y="2084.45" font-size="35.44" text-anchor="middle" textLength="27.52" lengthAdjust="spacingAndGlyphs">ns</text><text x="375.40" y="2090.35" font-size="33.27" text-anchor="middle" textLength="26.18" lengthAdjust="spacingAndGlyphs">ns</text><text x="421.70" y="2090.35" font-size="33.27" text-anchor="middle" textLength="26.18" lengthAdjust="spacingAndGlyphs">ns</text><text x="149.85" y="2408.90" font-size="33.50" text-anchor="middle" transform="rotate(-39.5 149.85 2408.90)">Ctrl</text><text x="203.45" y="2406.85" font-size="33.50" text-anchor="middle" transform="rotate(-39.5 203.45 2406.85)">H<tspan font-size="17.4" dy="11.4">2</tspan><tspan dy="-11.4">O</tspan><tspan font-size="17.4" dy="11.4">2</tspan></text><text x="258.45" y="2410.90" font-size="33.50" text-anchor="middle" transform="rotate(-39.5 258.45 2410.90)">YJT+L</text><text x="317.40" y="2413.90" font-size="33.50" text-anchor="middle" transform="rotate(-39.5 317.40 2413.90)">YJT+M</text><text x="367.15" y="2416.70" font-size="33.50" text-anchor="middle" transform="rotate(-39.5 367.15 2416.70)">YJT+H</text><text x="430.50" y="2413.75" font-size="33.50" text-anchor="middle" transform="rotate(-39.5 430.50 2413.75)">NAC</text><text x="547.25" y="1896.55" font-size="31.00" text-anchor="middle">J</text><text x="626.70" y="2152.80" font-size="34.37" text-anchor="middle" textLength="158.22" lengthAdjust="spacingAndGlyphs" transform="rotate(-90 626.70 2152.80)">Bax/β-actin</text><text x="788.05" y="1983.05" font-size="28.82" text-anchor="middle" textLength="32.83" lengthAdjust="spacingAndGlyphs">##</text><text x="837.85" y="2086.55" font-size="37.38" text-anchor="middle" textLength="13.69" lengthAdjust="spacingAndGlyphs">*</text><text x="884.25" y="2118.00" font-size="30.94" text-anchor="middle" textLength="27.95" lengthAdjust="spacingAndGlyphs">**</text><text x="931.85" y="2121.40" font-size="30.94" text-anchor="middle" textLength="42.74" lengthAdjust="spacingAndGlyphs">***</text><text x="980.95" y="2150.45" font-size="37.38" text-anchor="middle" textLength="43.78" lengthAdjust="spacingAndGlyphs">***</text><text x="707.10" y="2403.20" font-size="33.50" text-anchor="middle" transform="rotate(-39.5 707.10 2403.20)">Ctrl</text><text x="760.85" y="2401.20" font-size="33.50" text-anchor="middle" transform="rotate(-39.5 760.85 2401.20)">H<tspan font-size="17.4" dy="11.4">2</tspan><tspan dy="-11.4">O</tspan><tspan font-size="17.4" dy="11.4">2</tspan></text><text x="816.35" y="2404.70" font-size="33.50" text-anchor="middle" transform="rotate(-39.5 816.35 2404.70)">YJT+L</text><text x="873.90" y="2408.25" font-size="33.50" text-anchor="middle" transform="rotate(-39.5 873.90 2408.25)">YJT+M</text><text x="931.30" y="2409.95" font-size="33.50" text-anchor="middle" transform="rotate(-39.5 931.30 2409.95)">YJT+H</text><text x="989.15" y="2409.90" font-size="33.50" text-anchor="middle" transform="rotate(-39.5 989.15 2409.90)">NAC</text><text x="1092.70" y="1897.35" font-size="31.00" text-anchor="middle">K</text><text x="1177.15" y="2148.20" font-size="32.79" text-anchor="middle" textLength="329.41" lengthAdjust="spacingAndGlyphs" transform="rotate(-90 1177.15 2148.20)">cleved-caspase 3/β-actin</text><text x="1345.60" y="2007.30" font-size="31.68" text-anchor="middle" textLength="46.80" lengthAdjust="spacingAndGlyphs">###</text><text x="1393.40" y="2152.95" font-size="30.42" text-anchor="middle" textLength="42.68" lengthAdjust="spacingAndGlyphs">***</text><text x="1444.30" y="2187.15" font-size="32.54" text-anchor="middle" textLength="40.53" lengthAdjust="spacingAndGlyphs">***</text><text x="1491.80" y="2142.40" font-size="31.54" text-anchor="middle" textLength="42.68" lengthAdjust="spacingAndGlyphs">***</text><text x="1542.65" y="2164.50" font-size="30.94" text-anchor="middle" textLength="42.74" lengthAdjust="spacingAndGlyphs">***</text><text x="1262.85" y="2404.15" font-size="33.50" text-anchor="middle" transform="rotate(-39.5 1262.85 2404.15)">Ctrl</text><text x="1316.65" y="2401.05" font-size="33.50" text-anchor="middle" transform="rotate(-39.5 1316.65 2401.05)">H<tspan font-size="17.4" dy="11.4">2</tspan><tspan dy="-11.4">O</tspan><tspan font-size="17.4" dy="11.4">2</tspan></text><text x="1370.70" y="2405.15" font-size="33.50" text-anchor="middle" transform="rotate(-39.5 1370.70 2405.15)">YJT+L</text><text x="1429.35" y="2408.70" font-size="33.50" text-anchor="middle" transform="rotate(-39.5 1429.35 2408.70)">YJT+M</text><text x="1486.05" y="2410.45" font-size="33.50" text-anchor="middle" transform="rotate(-39.5 1486.05 2410.45)">YJT+H</text><text x="1542.50" y="2408.05" font-size="33.50" text-anchor="middle" transform="rotate(-39.5 1542.50 2408.05)">NAC</text><text x="125.50" y="70.70" font-size="27.53" font-weight="bold" text-anchor="middle" textLength="48.09" lengthAdjust="spacingAndGlyphs">2000</text><text x="125.44" y="178.50" font-size="27.53" font-weight="bold" text-anchor="middle" textLength="47.33" lengthAdjust="spacingAndGlyphs">1500</text><text x="125.44" y="286.20" font-size="27.53" font-weight="bold" text-anchor="middle" textLength="47.33" lengthAdjust="spacingAndGlyphs">1000</text><text x="130.81" y="394.20" font-size="27.53" font-weight="bold" text-anchor="middle" textLength="36.83" lengthAdjust="spacingAndGlyphs">500</text><text x="143.19" y="501.80" font-size="27.53" font-weight="bold" text-anchor="middle" textLength="12.52" lengthAdjust="spacingAndGlyphs">0</text><text x="657.55" y="68.90" font-size="29.08" font-weight="bold" text-anchor="middle" textLength="32.92" lengthAdjust="spacingAndGlyphs">2.0</text><text x="657.50" y="176.00" font-size="29.08" font-weight="bold" text-anchor="middle" textLength="33.31" lengthAdjust="spacingAndGlyphs">1.5</text><text x="657.50" y="283.50" font-size="29.08" font-weight="bold" text-anchor="middle" textLength="33.31" lengthAdjust="spacingAndGlyphs">1.0</text><text x="658.05" y="391.00" font-size="29.08" font-weight="bold" text-anchor="middle" textLength="32.92" lengthAdjust="spacingAndGlyphs">0.5</text><text x="658.05" y="497.70" font-size="29.08" font-weight="bold" text-anchor="middle" textLength="32.92" lengthAdjust="spacingAndGlyphs">0.0</text><text x="1195.85" y="44.10" font-size="28.75" font-weight="bold" text-anchor="middle" textLength="12.77" lengthAdjust="spacingAndGlyphs">3</text><text x="1195.85" y="196.00" font-size="28.75" font-weight="bold" text-anchor="middle" textLength="12.77" lengthAdjust="spacingAndGlyphs">2</text><text x="1195.82" y="347.20" font-size="28.75" font-weight="bold" text-anchor="middle" textLength="13.41" lengthAdjust="spacingAndGlyphs">1</text><text x="1195.85" y="499.60" font-size="28.75" font-weight="bold" text-anchor="middle" textLength="12.77" lengthAdjust="spacingAndGlyphs">0</text><text x="126.45" y="712.40" font-size="30.61" font-weight="bold" text-anchor="middle" textLength="32.92" lengthAdjust="spacingAndGlyphs">2.0</text><text x="126.38" y="820.20" font-size="30.61" font-weight="bold" text-anchor="middle" textLength="33.43" lengthAdjust="spacingAndGlyphs">1.5</text><text x="126.38" y="929.00" font-size="30.61" font-weight="bold" text-anchor="middle" textLength="33.43" lengthAdjust="spacingAndGlyphs">1.0</text><text x="126.95" y="1037.00" font-size="30.61" font-weight="bold" text-anchor="middle" textLength="32.92" lengthAdjust="spacingAndGlyphs">0.5</text><text x="126.95" y="1145.60" font-size="30.61" font-weight="bold" text-anchor="middle" textLength="32.92" lengthAdjust="spacingAndGlyphs">0.0</text><text x="656.60" y="713.10" font-size="27.53" font-weight="bold" text-anchor="middle" textLength="32.45" lengthAdjust="spacingAndGlyphs">2.0</text><text x="656.59" y="819.90" font-size="27.53" font-weight="bold" text-anchor="middle" textLength="33.84" lengthAdjust="spacingAndGlyphs">1.5</text><text x="656.59" y="927.30" font-size="27.53" font-weight="bold" text-anchor="middle" textLength="33.84" lengthAdjust="spacingAndGlyphs">1.0</text><text x="656.60" y="1033.30" font-size="27.53" font-weight="bold" text-anchor="middle" textLength="32.45" lengthAdjust="spacingAndGlyphs">0.5</text><text x="656.60" y="1139.20" font-size="27.53" font-weight="bold" text-anchor="middle" textLength="32.45" lengthAdjust="spacingAndGlyphs">0.0</text><text x="1186.95" y="709.50" font-size="28.75" font-weight="bold" text-anchor="middle" textLength="12.77" lengthAdjust="spacingAndGlyphs">3</text><text x="1186.95" y="853.60" font-size="28.75" font-weight="bold" text-anchor="middle" textLength="12.77" lengthAdjust="spacingAndGlyphs">2</text><text x="1186.92" y="997.80" font-size="28.75" font-weight="bold" text-anchor="middle" textLength="13.41" lengthAdjust="spacingAndGlyphs">1</text><text x="1186.95" y="1142.10" font-size="28.75" font-weight="bold" text-anchor="middle" textLength="12.77" lengthAdjust="spacingAndGlyphs">0</text><text x="127.05" y="1341.60" font-size="27.84" font-weight="bold" text-anchor="middle" textLength="13.69" lengthAdjust="spacingAndGlyphs">3</text><text x="127.05" y="1486.00" font-size="27.84" font-weight="bold" text-anchor="middle" textLength="13.69" lengthAdjust="spacingAndGlyphs">2</text><text x="127.04" y="1630.40" font-size="27.84" font-weight="bold" text-anchor="middle" textLength="14.38" lengthAdjust="spacingAndGlyphs">1</text><text x="127.05" y="1774.40" font-size="27.84" font-weight="bold" text-anchor="middle" textLength="13.69" lengthAdjust="spacingAndGlyphs">0</text><text x="126.30" y="1981.90" font-size="24.18" font-weight="bold" text-anchor="middle" textLength="30.47" lengthAdjust="spacingAndGlyphs">1.5</text><text x="126.30" y="2105.40" font-size="24.18" font-weight="bold" text-anchor="middle" textLength="30.47" lengthAdjust="spacingAndGlyphs">1.0</text><text x="126.29" y="2227.10" font-size="24.18" font-weight="bold" text-anchor="middle" textLength="31.51" lengthAdjust="spacingAndGlyphs">0.5</text><text x="126.29" y="2350.30" font-size="24.18" font-weight="bold" text-anchor="middle" textLength="31.51" lengthAdjust="spacingAndGlyphs">0.0</text><text x="674.05" y="1972.60" font-size="23.56" font-weight="bold" text-anchor="middle" textLength="28.94" lengthAdjust="spacingAndGlyphs">1.5</text><text x="674.05" y="2100.40" font-size="23.56" font-weight="bold" text-anchor="middle" textLength="28.94" lengthAdjust="spacingAndGlyphs">1.0</text><text x="674.05" y="2227.20" font-size="23.56" font-weight="bold" text-anchor="middle" textLength="29.93" lengthAdjust="spacingAndGlyphs">0.5</text><text x="674.05" y="2355.60" font-size="23.56" font-weight="bold" text-anchor="middle" textLength="29.93" lengthAdjust="spacingAndGlyphs">0.0</text><text x="1231.10" y="1965.80" font-size="23.25" font-weight="bold" text-anchor="middle" textLength="31.45" lengthAdjust="spacingAndGlyphs">0.4</text><text x="1231.10" y="2063.20" font-size="23.25" font-weight="bold" text-anchor="middle" textLength="32.57" lengthAdjust="spacingAndGlyphs">0.3</text><text x="1231.10" y="2160.50" font-size="23.25" font-weight="bold" text-anchor="middle" textLength="32.57" lengthAdjust="spacingAndGlyphs">0.2</text><text x="1231.10" y="2257.90" font-size="23.25" font-weight="bold" text-anchor="middle" textLength="32.57" lengthAdjust="spacingAndGlyphs">0.1</text><text x="1231.10" y="2354.50" font-size="23.25" font-weight="bold" text-anchor="middle" textLength="32.57" lengthAdjust="spacingAndGlyphs">0.0</text><text x="829.90" y="1477.15" font-size="39.00" text-anchor="middle">β-actin</text><text x="831.70" y="1542.70" font-size="39.00" text-anchor="middle">Bax</text><text x="829.90" y="1593.05" font-size="39.00" text-anchor="middle">β-actin</text><text x="831.35" y="1641.30" font-size="39.00" text-anchor="middle">Bcl2</text><text x="829.90" y="1703.85" font-size="39.00" text-anchor="middle">β-actin</text><text x="826.00" y="1767.45" font-size="40.00" text-anchor="middle">Cleaved-</text><text x="830.50" y="1813.50" font-size="40.00" text-anchor="middle">caspase 3</text><text x="1470.75" y="1477.70" font-size="40.00" text-anchor="middle">42kDa</text><text x="1470.25" y="1535.45" font-size="40.00" text-anchor="middle">21kDa</text><text x="1465.85" y="1602.50" font-size="40.00" text-anchor="middle">42kDa</text><text x="1468.45" y="1665.15" font-size="40.00" text-anchor="middle">26kDa</text><text x="1465.85" y="1719.90" font-size="40.00" text-anchor="middle">42kDa</text><text x="1466.15" y="1781.60" font-size="40.00" text-anchor="middle">19kDa</text><text x="937.80" y="1394.95" font-size="31.50" text-anchor="middle" transform="rotate(-39.5 937.80 1394.95)">Ctrl</text><text x="1025.35" y="1395.00" font-size="31.50" text-anchor="middle" transform="rotate(-39.5 1025.35 1395.00)">H<tspan font-size="16.4" dy="10.7">2</tspan><tspan dy="-10.7">O</tspan><tspan font-size="16.4" dy="10.7">2</tspan></text><text x="1128.90" y="1392.90" font-size="31.50" text-anchor="middle" transform="rotate(-39.5 1128.90 1392.90)">YJT+L</text><text x="1222.20" y="1391.00" font-size="31.50" text-anchor="middle" transform="rotate(-39.5 1222.20 1391.00)">YJT+M</text><text x="1315.65" y="1391.40" font-size="31.50" text-anchor="middle" transform="rotate(-39.5 1315.65 1391.40)">YJT+H</text><text x="1391.25" y="1392.05" font-size="31.50" text-anchor="middle" transform="rotate(-39.5 1391.25 1392.05)">NAC</text><text x="555.80" y="1309.50" font-size="31.00" text-anchor="middle">II</text></g></svg></body></html>
